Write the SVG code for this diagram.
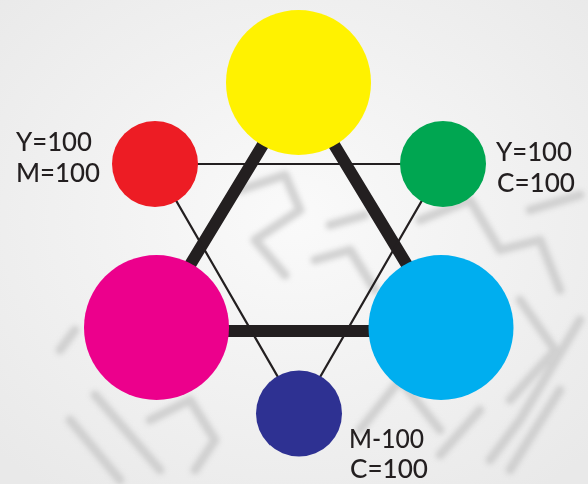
<svg xmlns="http://www.w3.org/2000/svg" width="588" height="484" viewBox="0 0 588 484">
  <defs>
    <filter id="blur" x="-10%" y="-10%" width="120%" height="120%">
      <feGaussianBlur stdDeviation="2.5"/>
    </filter>
    <radialGradient id="bg" cx="50%" cy="45%" r="70%">
      <stop offset="0" stop-color="#fafafa"/>
      <stop offset="1" stop-color="#e9e9e9"/>
    </radialGradient>
  </defs>
  <style>
    .wm { fill: none; stroke: #c9c9c9; stroke-width: 9; stroke-linecap: round; stroke-linejoin: round; opacity: 0.8; }
    .thick { fill: none; stroke: #231f20; stroke-width: 12; stroke-linejoin: miter; }
    .thin { fill: none; stroke: #231f20; stroke-width: 2.2; }
    .lbl { font-family: Lato, "Liberation Sans", sans-serif; font-size: 26px; font-weight: 500; fill: #231f20; }
  </style>

  <rect x="0" y="0" width="588" height="484" fill="url(#bg)"/>
  <g id="watermark" filter="url(#blur)">
    <path class="wm" d="M60 350 L75 330 M70 420 L120 480 M95 395 L160 470 M150 420 L190 400 L215 440 L195 470"/>
    <path class="wm" d="M240 190 L285 175 L300 210 L255 240 L285 275"/>
    <path class="wm" d="M315 260 L350 250 L375 290 M330 225 L365 215"/>
    <path class="wm" d="M420 220 L470 200 L500 250 L540 240 L560 290 M530 210 L580 195"/>
    <path class="wm" d="M520 300 L555 350 L510 400 M580 320 L520 420 L490 460 M560 390 L510 470"/>
    <path class="wm" d="M360 430 L400 380 L440 430 M440 455 L480 410"/>
  </g>

  <g id="connectors">
    <polygon class="thick" points="298.5,86 150,331 447,331"/>
    <polygon class="thin" points="155,164 443,164 299,413.5"/>
  </g>

  <g id="node-yellow"><circle cx="298.5" cy="82.5" r="72.5" fill="#fff200"/></g>
  <g id="node-magenta"><circle cx="156.5" cy="327.5" r="72.5" fill="#ec008c"/></g>
  <g id="node-cyan"><circle cx="441" cy="327.5" r="72.5" fill="#00aeef"/></g>
  <g id="node-red">
    <circle cx="155" cy="164" r="43" fill="#ed1c24"/>
    <text class="lbl" x="16" y="151" textLength="76" lengthAdjust="spacingAndGlyphs">Y=100</text>
    <text class="lbl" x="16" y="182" textLength="84" lengthAdjust="spacingAndGlyphs">M=100</text>
  </g>
  <g id="node-green">
    <circle cx="443" cy="164" r="43" fill="#00a651"/>
    <text class="lbl" x="496" y="161" textLength="76" lengthAdjust="spacingAndGlyphs">Y=100</text>
    <text class="lbl" x="497" y="192" textLength="78" lengthAdjust="spacingAndGlyphs">C=100</text>
  </g>
  <g id="node-blue">
    <circle cx="299" cy="413.5" r="43" fill="#2e3192"/>
    <text class="lbl" x="349" y="448" textLength="75" lengthAdjust="spacingAndGlyphs">M-100</text>
    <text class="lbl" x="350" y="478" textLength="78" lengthAdjust="spacingAndGlyphs">C=100</text>
  </g>
</svg>
